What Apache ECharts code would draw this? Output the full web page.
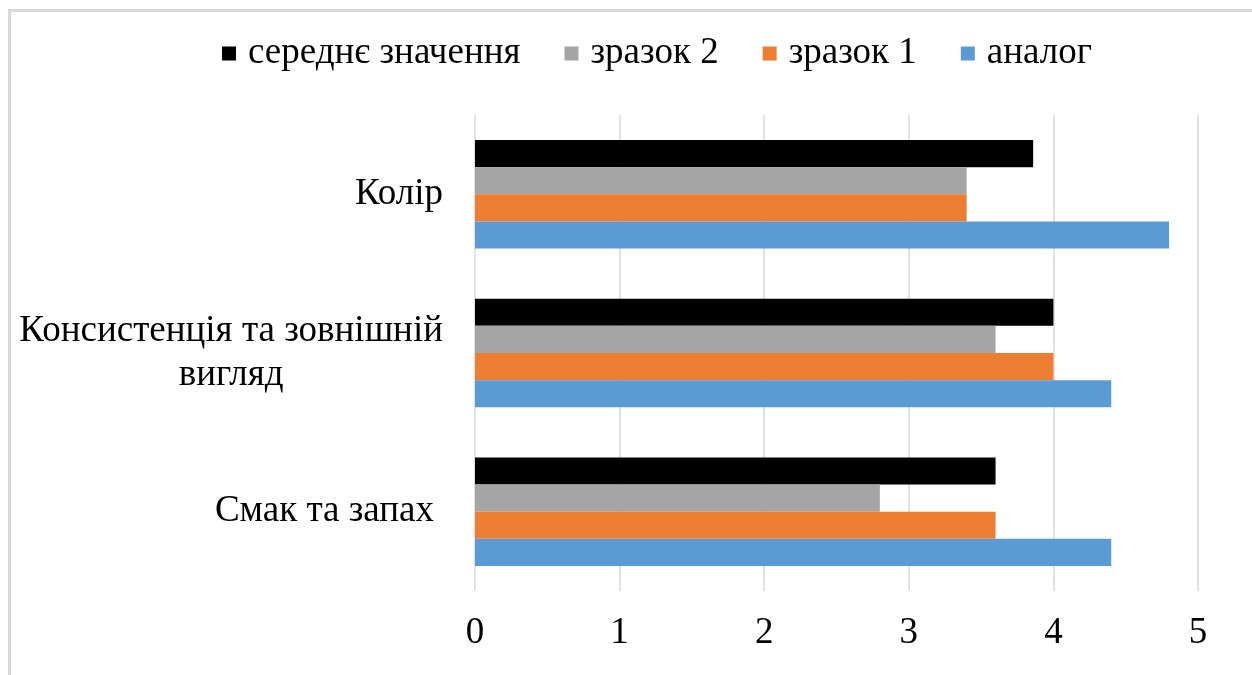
<!DOCTYPE html>
<html>
<head>
<meta charset="utf-8">
<script src="https://cdn.jsdelivr.net/npm/echarts@6/dist/echarts.min.js"></script>
<style>
  html, body { margin: 0; padding: 0; background: #fff; }
  #frame { position: absolute; left: 8px; top: 9px; width: 1260px; height: 680px; border-top: 3px solid #d9d9d9; border-left: 3px solid #d9d9d9; box-sizing: border-box; }
  #chart { position: absolute; left: 0; top: 0; width: 1252px; height: 675px; }
</style>
</head>
<body>
<div id="frame"></div>
<div id="chart"></div>
<script>
const categories = ['Смак та запах', 'Консистенція та зовнішній вигляд', 'Колір'];
const seriesNames = ['середнє значення', 'зразок 2', 'зразок 1', 'аналог'];
const average = [3.6, 4.0, 3.86];
const sample2 = [2.8, 3.6, 3.4];
const sample1 = [3.6, 4.0, 3.4];
const analog = [4.4, 4.4, 4.8];
const legendOrder = ['середнє значення', 'зразок 2', 'зразок 1', 'аналог'];
const xTicks = [0, 1, 2, 3, 4, 5];

const colors = ['#000000', '#a5a5a5', '#ed7d31', '#5b9bd5'];
const values = [average, sample2, sample1, analog];
const font = '"Liberation Serif", "Times New Roman", serif';
const FS = 37;

const chart = echarts.init(document.getElementById('chart'), null, { renderer: 'canvas' });
chart.setOption({
  animation: false,
  textStyle: { fontFamily: font },
  legend: {
    data: legendOrder,
    top: 30,
    left: 217,
    itemWidth: 14,
    itemHeight: 14,
    itemGap: 44,
    icon: 'rect',
    textStyle: { fontFamily: font, fontSize: FS, color: '#000', padding: [0, 0, 0, 7] }
  },
  grid: { left: 475, right: 54, top: 115, height: 476, containLabel: false },
  xAxis: {
    type: 'value',
    min: xTicks[0],
    max: xTicks[xTicks.length - 1],
    interval: 1,
    axisLine: { show: false },
    axisTick: { show: false },
    splitLine: { show: true, lineStyle: { color: '#d9d9d9', width: 1.5 } },
    axisLabel: { fontFamily: font, fontSize: FS, color: '#000', margin: 24 }
  },
  yAxis: {
    type: 'category',
    data: categories,
    axisLine: { show: false },
    axisTick: { show: false },
    axisLabel: {
      fontFamily: font, fontSize: FS, color: '#000', margin: 32, lineHeight: 44,
      formatter: function (v) {
        if (v === categories[1]) {
          return '{a|Консистенція та зовнішній}\n{b|вигляд}';
        }
        if (v === categories[0]) {
          return '{s|' + v + '}';
        }
        return v;
      },
      rich: {
        a: { fontFamily: font, fontSize: FS, color: '#000', lineHeight: 44 },
        b: { fontFamily: font, fontSize: FS, color: '#000', lineHeight: 44, width: 380, align: 'center' },
        s: { fontFamily: font, fontSize: FS, color: '#000', padding: [0, 9, 0, 0] }
      }
    }
  },
  series: seriesNames.map((n, i) => ({
    name: n,
    type: 'bar',
    data: values[i],
    barGap: '0%',
    barCategoryGap: '31.6%',
    itemStyle: { color: colors[i] }
  }))
});
</script>
</body>
</html>
